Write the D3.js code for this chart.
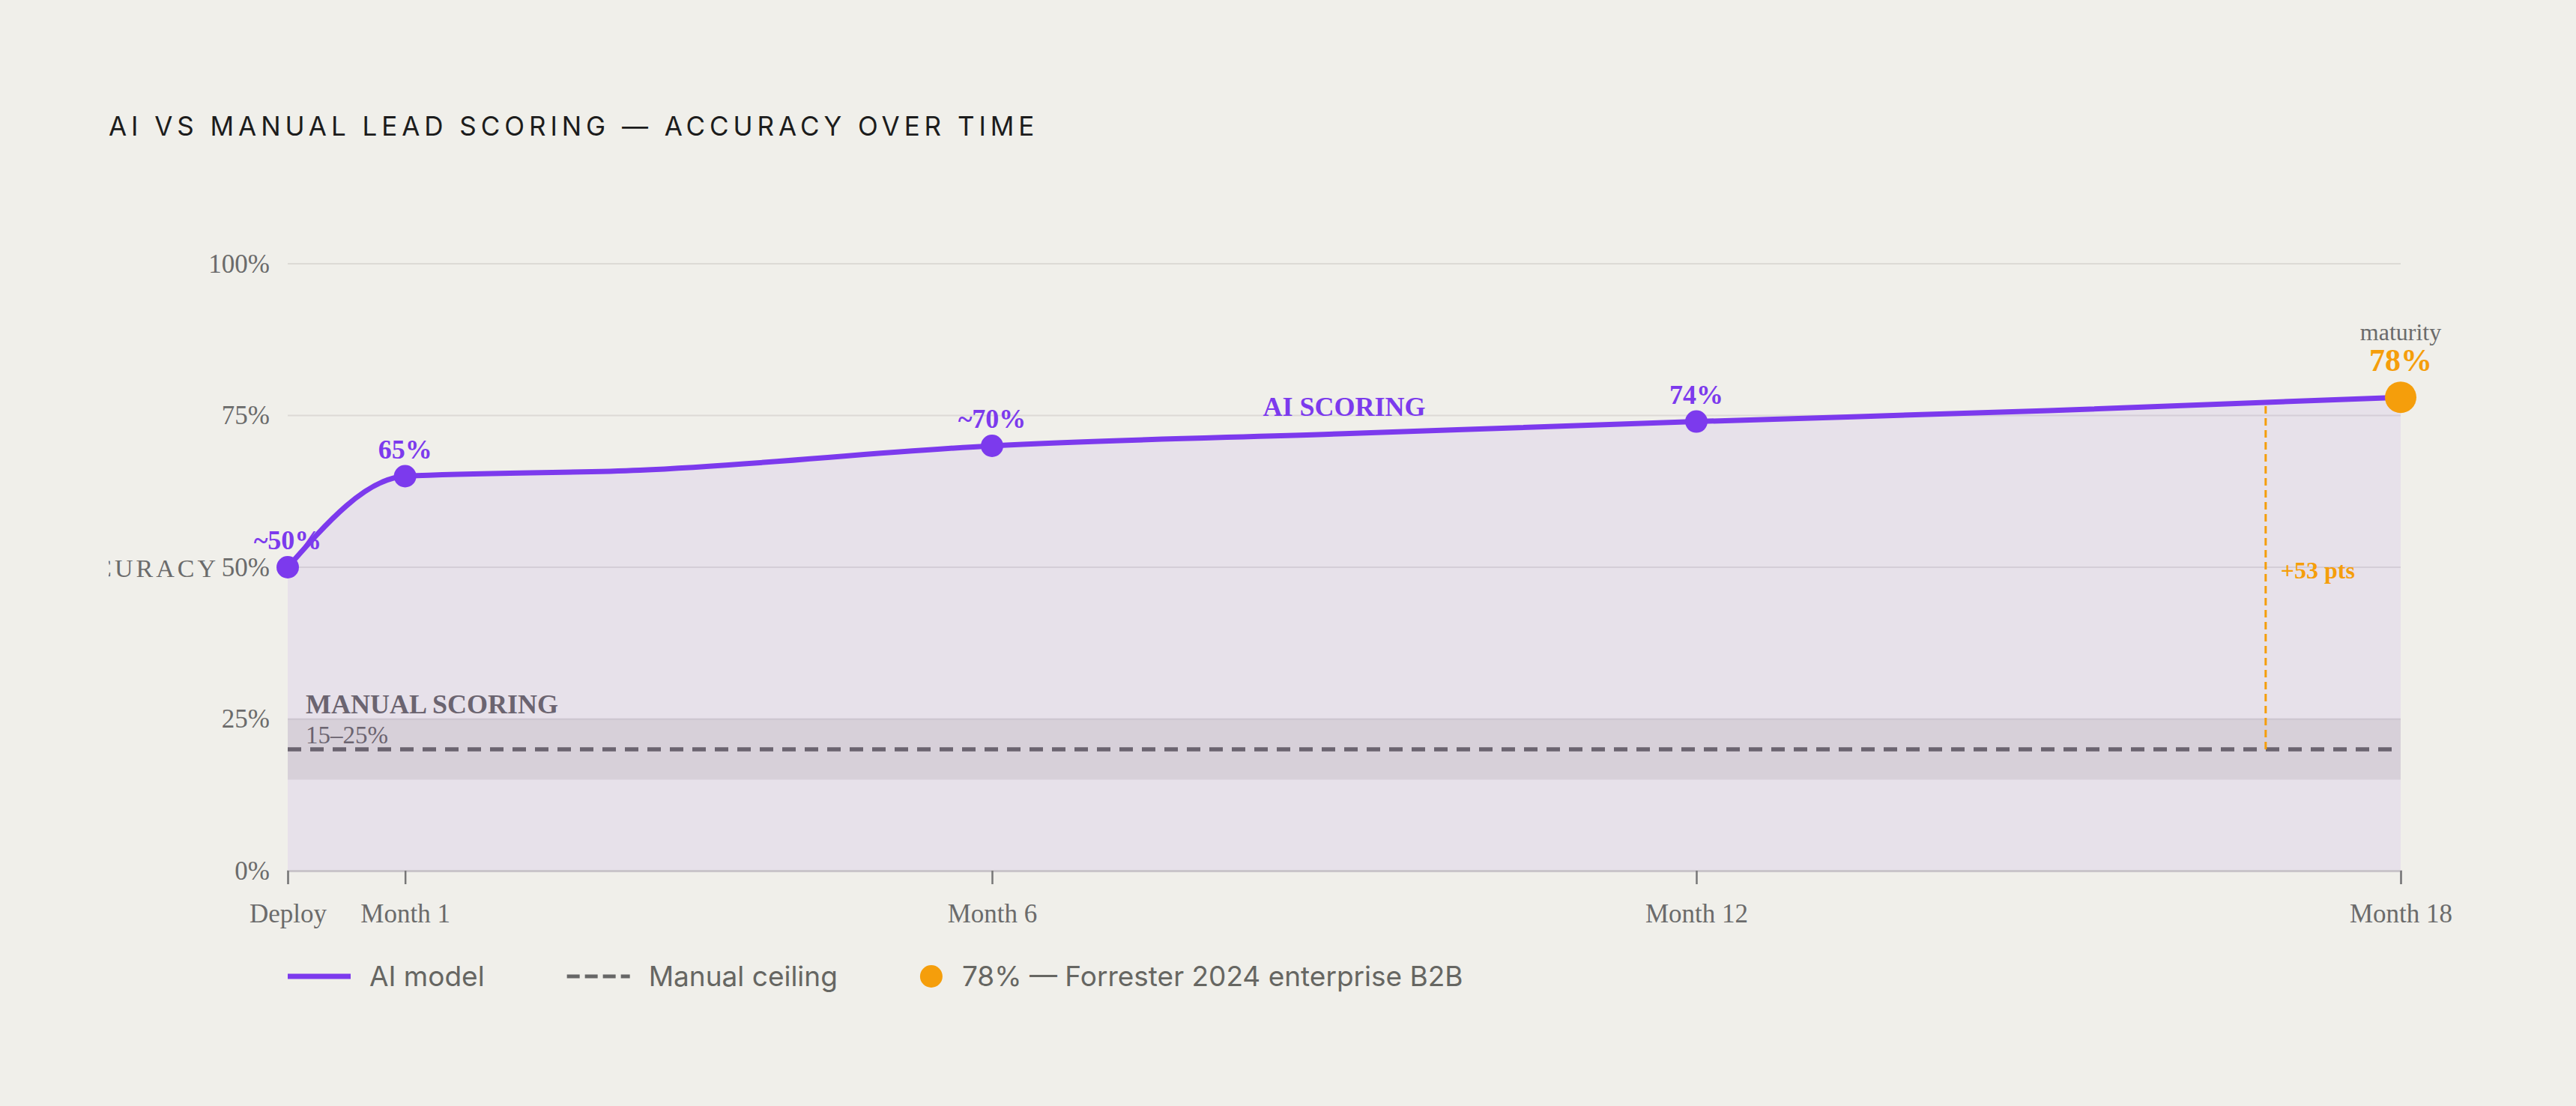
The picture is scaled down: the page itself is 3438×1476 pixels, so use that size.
<!DOCTYPE html>
<html>
<head>
<meta charset="utf-8">
<script src="https://cdn.jsdelivr.net/npm/d3@7"></script>
<style>
  html, body { margin: 0; padding: 0; background: #f0efea; }
  svg { display: block; }
</style>
</head>
<body>
<svg id="chart" width="3438" height="1476"></svg>
<script>
const title = 'AI VS MANUAL LEAD SCORING — ACCURACY OVER TIME';
const yAxisTitle = 'ACCURACY';

// milestones shown as dots + x ticks
const milestoneMonths = [0, 1, 6, 12, 18];
const milestoneTicks = ['Deploy', 'Month 1', 'Month 6', 'Month 12', 'Month 18'];
const milestoneValues = [50, 65, 70, 74, 78];
const milestoneLabels = ['~50%', '65%', '~70%', '74%', '78%'];

// accuracy trace
const traceMonths = [0, 1, 3, 6, 9, 12, 15, 18];
const traceValues = [50, 65, 66, 70, 72, 74, 75.8, 78];

const yTicks = [0, 25, 50, 75, 100];
const manualBand = [15, 25];
const manualCeiling = 20;
const gapMonth = 16.85;
const gapTop = 77.4;
const gapLabel = '+53 pts';
const legendLabels = ['AI model', 'Manual ceiling', '78% — Forrester 2024 enterprise B2B'];

const SERIF = "'Liberation Serif', 'Times New Roman', serif";
const SANS = "Inter, 'DejaVu Sans', sans-serif";
const PURPLE = '#7c3aed';
const ORANGE = '#f59e0b';
const MANUAL = '#6b6470';
const GREY = '#6b6b6b';

class AccuracyChart {
  constructor(_config) {
    this.config = {
      selection: _config.selection,
      containerWidth: _config.containerWidth || 3438,
      containerHeight: _config.containerHeight || 1476,
      margin: _config.margin || { top: 352, right: 234, bottom: 314, left: 384 }
    }
  }

  render() {
    let vis = this;
    const m = vis.config.margin;

    vis.svg = d3.select(vis.config.selection);

    vis.x = d3.scaleLinear()
      .domain([0, 18])
      .range([m.left, vis.config.containerWidth - m.right]);
    vis.y = d3.scaleLinear()
      .domain([0, 100])
      .range([vis.config.containerHeight - m.bottom, m.top]);

    const x0 = vis.x(0), x1 = vis.x(18);

    // Title
    vis.svg.append('text')
      .text(title)
      .attr('x', 145)
      .attr('y', 181)
      .attr('font-family', SANS)
      .attr('font-size', 35)
      .attr('letter-spacing', '0.17em')
      .attr('fill', '#1c1c1c');

    // Grid
    vis.svg.append('g')
      .selectAll('line')
      .data(yTicks.filter(d => d > 0))
      .join('line')
      .attr('x1', x0)
      .attr('x2', x1)
      .attr('y1', d => vis.y(d))
      .attr('y2', d => vis.y(d))
      .attr('stroke', '#dcdad5')
      .attr('stroke-width', 2);

    const trace = traceMonths.map((mo, i) => [mo, traceValues[i]]);

    // Area under AI line
    vis.svg.append('path')
      .attr('d', d3.area()
        .x(d => vis.x(d[0]))
        .y0(vis.y(0))
        .y1(d => vis.y(d[1]))
        .curve(d3.curveMonotoneX)(trace))
      .attr('fill', PURPLE)
      .attr('fill-opacity', 0.08);

    // Manual band
    vis.svg.append('rect')
      .attr('x', x0)
      .attr('width', x1 - x0)
      .attr('y', vis.y(manualBand[1]))
      .attr('height', vis.y(manualBand[0]) - vis.y(manualBand[1]))
      .attr('fill', MANUAL)
      .attr('fill-opacity', 0.13);

    // Y tick labels
    vis.svg.append('g')
      .selectAll('text')
      .data(yTicks)
      .join('text')
      .text(d => d + '%')
      .attr('x', m.left - 24)
      .attr('y', d => vis.y(d))
      .attr('dy', '0.33em')
      .attr('text-anchor', 'end')
      .attr('font-family', SERIF)
      .attr('font-size', 35)
      .attr('fill', GREY);

    // Y axis title (clipped at page padding)
    vis.svg.append('clipPath')
      .attr('id', 'padClip')
      .append('rect')
      .attr('x', 145).attr('y', 0)
      .attr('width', vis.config.containerWidth).attr('height', vis.config.containerHeight);
    vis.svg.append('text')
      .text(yAxisTitle)
      .attr('clip-path', 'url(#padClip)')
      .attr('x', 292)
      .attr('y', vis.y(50) + 13)
      .attr('text-anchor', 'end')
      .attr('letter-spacing', 4)
      .attr('font-family', SERIF)
      .attr('font-size', 34)
      .attr('fill', GREY);

    // X axis
    const xAxis = d3.axisBottom(vis.x)
      .tickValues(milestoneMonths)
      .tickFormat((d, i) => milestoneTicks[i])
      .tickSize(18)
      .tickPadding(26);
    const gx = vis.svg.append('g')
      .attr('transform', `translate(0, ${vis.y(0)})`)
      .call(xAxis);
    gx.select('.domain')
      .attr('stroke', '#c9c5c9')
      .attr('stroke-width', 3);
    gx.selectAll('.tick line')
      .attr('stroke', '#777')
      .attr('stroke-width', 2.5);
    gx.selectAll('.tick text')
      .attr('font-family', SERIF)
      .attr('font-size', 35)
      .attr('fill', GREY);

    // Manual ceiling
    vis.svg.append('path')
      .attr('d', d3.line()([[x0, vis.y(manualCeiling)], [x1, vis.y(manualCeiling)]]))
      .attr('stroke', MANUAL)
      .attr('stroke-width', 5.5)
      .attr('stroke-dasharray', '18,12');

    vis.svg.append('text')
      .text('MANUAL SCORING')
      .attr('x', x0 + 24)
      .attr('y', vis.y(manualBand[1]) - 8)
      .attr('font-family', SERIF)
      .attr('font-weight', 'bold')
      .attr('font-size', 36)
      .attr('fill', MANUAL);
    vis.svg.append('text')
      .text(manualBand[0] + '–' + manualBand[1] + '%')
      .attr('x', x0 + 24)
      .attr('y', vis.y(manualBand[1]) + 32)
      .attr('font-family', SERIF)
      .attr('font-size', 33)
      .attr('fill', MANUAL);

    // Gap marker
    vis.svg.append('path')
      .attr('d', d3.line()([[vis.x(gapMonth), vis.y(manualCeiling)], [vis.x(gapMonth), vis.y(gapTop)]]))
      .attr('stroke', ORANGE)
      .attr('stroke-width', 3)
      .attr('stroke-dasharray', '10,6');
    vis.svg.append('text')
      .text(gapLabel)
      .attr('x', vis.x(gapMonth) + 20)
      .attr('y', vis.y(50) + 15)
      .attr('font-family', SERIF)
      .attr('font-weight', 'bold')
      .attr('font-size', 32)
      .attr('fill', ORANGE);

    // AI line
    vis.svg.append('path')
      .attr('d', d3.line()
        .x(d => vis.x(d[0]))
        .y(d => vis.y(d[1]))
        .curve(d3.curveMonotoneX)(trace))
      .attr('fill', 'none')
      .attr('stroke', PURPLE)
      .attr('stroke-width', 7);

    vis.svg.append('text')
      .text('AI SCORING')
      .attr('x', vis.x(9))
      .attr('y', vis.y(75))
      .attr('text-anchor', 'middle')
      .attr('font-family', SERIF)
      .attr('font-weight', 'bold')
      .attr('font-size', 36)
      .attr('fill', PURPLE);

    // Milestone dots
    const last = milestoneMonths.length - 1;
    const milestones = milestoneMonths.map((mo, i) => ({ mo, v: milestoneValues[i], label: milestoneLabels[i], last: i === last }));

    vis.svg.append('g')
      .selectAll('circle')
      .data(milestones)
      .join('circle')
      .attr('cx', d => vis.x(d.mo))
      .attr('cy', d => vis.y(d.v))
      .attr('r', d => d.last ? 21 : 15)
      .attr('fill', d => d.last ? ORANGE : PURPLE);

    vis.svg.append('g')
      .selectAll('text')
      .data(milestones.filter(d => !d.last))
      .join('text')
      .text(d => d.label)
      .attr('x', d => vis.x(d.mo))
      .attr('y', d => vis.y(d.v) - 24)
      .attr('text-anchor', 'middle')
      .attr('font-family', SERIF)
      .attr('font-weight', 'bold')
      .attr('font-size', 36)
      .attr('fill', PURPLE);

    const end = milestones[last];
    vis.svg.append('text')
      .text(end.label)
      .attr('x', vis.x(end.mo))
      .attr('y', vis.y(end.v) - 35)
      .attr('text-anchor', 'middle')
      .attr('font-family', SERIF)
      .attr('font-weight', 'bold')
      .attr('font-size', 42)
      .attr('fill', ORANGE);
    vis.svg.append('text')
      .text('maturity')
      .attr('x', vis.x(end.mo))
      .attr('y', vis.y(end.v) - 76)
      .attr('text-anchor', 'middle')
      .attr('font-family', SERIF)
      .attr('font-size', 32)
      .attr('fill', GREY);

    vis.renderLegend();
  }

  renderLegend() {
    let vis = this;
    const ly = 1303;
    let cx = vis.x(0);

    vis.legendG = vis.svg.append('g');

    legendLabels.forEach((label, idx) => {
      let textX;
      if (idx === 0) {
        vis.legendG.append('path')
          .attr('d', d3.line()([[cx, ly], [cx + 84, ly]]))
          .attr('stroke', PURPLE)
          .attr('stroke-width', 7);
        textX = cx + 109;
      } else if (idx === 1) {
        vis.legendG.append('path')
          .attr('d', d3.line()([[cx, ly], [cx + 84, ly]]))
          .attr('stroke', '#666')
          .attr('stroke-width', 5)
          .attr('stroke-dasharray', '17,7');
        textX = cx + 109;
      } else {
        vis.legendG.append('circle')
          .attr('cx', cx + 15)
          .attr('cy', ly)
          .attr('r', 15)
          .attr('fill', ORANGE);
        textX = cx + 56;
      }
      const t = vis.legendG.append('text')
        .text(label)
        .attr('x', textX)
        .attr('y', ly)
        .attr('dy', '0.35em')
        .attr('font-family', SANS)
        .attr('font-size', 37)
        .attr('fill', '#666662');
      cx = textX + t.node().getComputedTextLength() + 110;
    });
  }
}

const chart = new AccuracyChart({ selection: '#chart' });
chart.render();
</script>
</body>
</html>
